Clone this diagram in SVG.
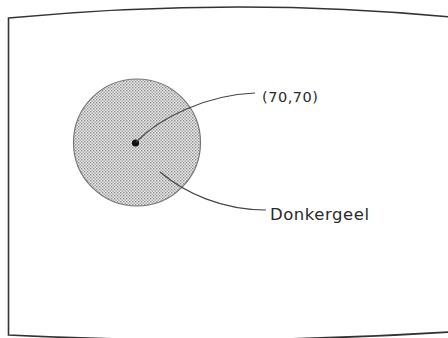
<svg xmlns="http://www.w3.org/2000/svg" width="448" height="338" viewBox="0 0 448 338">
  <defs>
    <pattern id="stipple" width="3" height="3" patternUnits="userSpaceOnUse">
      <rect width="3" height="3" fill="#eeeeee"/>
      <rect x="0" y="0" width="1.4" height="1.4" fill="#888"/>
      <rect x="1.5" y="1.5" width="1.4" height="1.4" fill="#999"/>
    </pattern>
  </defs>
  <style>
    .frame { fill: none; stroke: #333; stroke-width: 1.6; }
    .leader { fill: none; stroke: #444; stroke-width: 1.1; }
    .label { font-family: "DejaVu Sans", "Liberation Sans", sans-serif; fill: #2a2a2a; }
  </style>
  <rect width="448" height="338" fill="#fff"/>
  <g id="screen">
    <path class="frame" d="M8.5,18 Q237.5,-3.5 450,17 L450,332 Q228,346 8.5,335 Z"/>
  </g>
  <g id="circle">
    <circle cx="137" cy="142.5" r="63.5" fill="url(#stipple)" stroke="#777" stroke-width="1.2"/>
    <circle cx="135.5" cy="143" r="3.6" fill="#111"/>
  </g>
  <g id="connectors">
    <path class="leader" d="M136,142 C160,118 205,95 255,93"/>
    <path class="leader" d="M160,172 C185,193 222,210 266,210"/>
  </g>
  <g id="label-center">
    <text class="label" x="262" y="102" font-size="14.5" textLength="56" lengthAdjust="spacing">(70,70)</text>
  </g>
  <g id="label-colour">
    <text class="label" x="270" y="220" font-size="16.5" textLength="99" lengthAdjust="spacing">Donkergeel</text>
  </g>
</svg>
